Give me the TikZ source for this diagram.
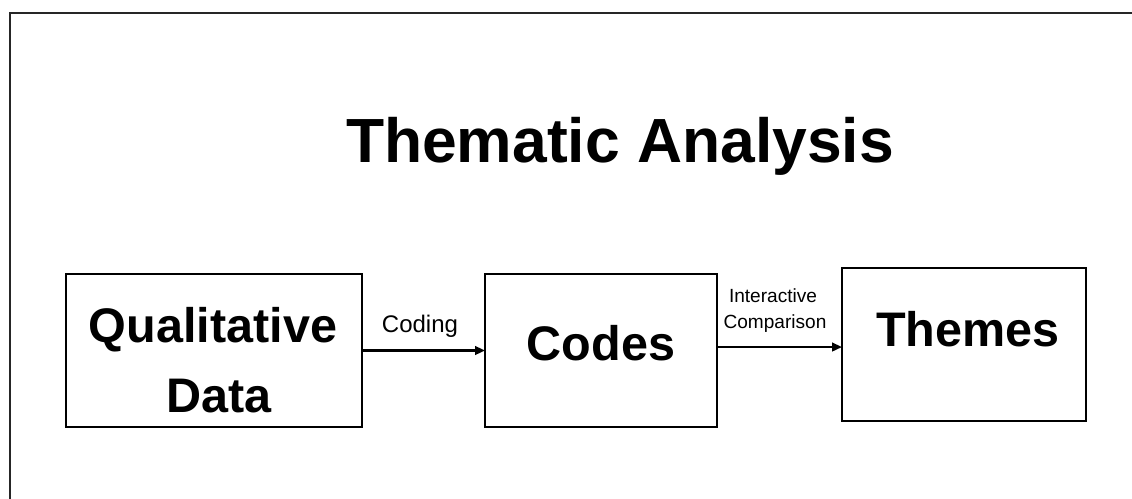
\documentclass[tikz,border=0pt]{standalone}
\usepackage{fontspec}
\setmainfont{Liberation Sans}
\usetikzlibrary{arrows.meta}
\tikzset{
  frame/.style={draw=black!85, line width=2pt},
  box/.style={draw=black, line width=2pt, inner sep=0pt, outer sep=0pt, rectangle},
  boxtext/.style={font=\fontsize{36.4pt}{40pt}\selectfont\bfseries, inner sep=0pt, anchor=base},
  titletext/.style={font=\fontsize{46.8pt}{52pt}\selectfont\bfseries, inner sep=0pt, anchor=base},
  edgelabel/.style={inner sep=0pt, anchor=base},
  arr/.style={draw=black, line width=1.6pt, -{Triangle[length=7.5pt,width=6.5pt]}}
}
\begin{document}
\begin{tikzpicture}[x=0.75pt,y=-0.75pt]
\clip (0,0) rectangle (1132,499);
\useasboundingbox (0,0) rectangle (1132,499);
\fill[white] (0,0) rectangle (1132,499);
\draw[frame] (10,13) rectangle (1150,520);
\node[titletext] (title) at (620,163) {Thematic Analysis};
\node[box, minimum width=222pt, minimum height=114.75pt] (b1) at (214,350.5) {};
\node[box, minimum width=174pt, minimum height=114.75pt] (b2) at (601,350.5) {};
\node[box, minimum width=183pt, minimum height=114.75pt] (b3) at (964,344.5) {};
\node[boxtext] (t1a) at (213,342) {Qualitative};
\node[boxtext] (t1b) at (219,412) {Data};
\node[boxtext] (t2) at (601,360) {Codes};
\node[boxtext] (t3) at (968,346) {Themes};
\draw[arr] (b1.east) -- (b2.west);
\draw[arr] ([yshift=2.6pt]b2.east) -- ([yshift=2.6pt]b2.east -| b3.west);
\node[edgelabel, font=\fontsize{18pt}{20pt}\selectfont] (l1) at (420,332) {Coding};
\node[edgelabel, font=\fontsize{14.3pt}{16pt}\selectfont] (l2a) at (773,302) {Interactive};
\node[edgelabel, font=\fontsize{14.3pt}{16pt}\selectfont] (l2b) at (775,328) {Comparison};
\end{tikzpicture}
\end{document}
